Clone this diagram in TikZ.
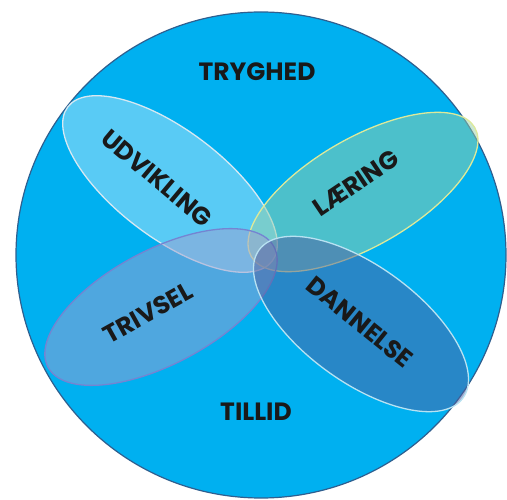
\documentclass[tikz,border=0pt]{standalone}
\usepackage{fontspec}
\setmainfont{Poppins}
\usepackage{tikz}
\definecolor{ringblue}{HTML}{00B0F0}
\definecolor{ringedge}{HTML}{2F5F8F}
\definecolor{udvfill}{HTML}{FFFFFF}
\definecolor{udvedge}{HTML}{D6E8F2}
\definecolor{laerfill}{HTML}{98D0A8}
\definecolor{laeredge}{HTML}{DDE99A}
\definecolor{trivfill}{HTML}{9EA0D0}
\definecolor{trivedge}{HTML}{7484D2}
\definecolor{dannfill}{HTML}{5060A0}
\definecolor{dannedge}{HTML}{B8E2F2}

\tikzset{
  petal/.style={line width=1.3pt, fill opacity=0.5},
  word/.style={font=\bfseries\fontsize{25}{28}\selectfont, text=black!90, inner sep=0pt}
}

\begin{document}
\begin{tikzpicture}[x=1pt,y=-1pt]
    \useasboundingbox (0,0) rectangle (507,500);
    \draw[ringedge, fill=ringblue, line width=1.2pt] (261,255) ellipse [x radius=245, y radius=243];
    \draw[petal, draw=udvedge, fill=udvfill, fill opacity=0.35, rotate around={-37:(170,184)}] (170,184) ellipse [x radius=128, y radius=54];
    \draw[petal, draw=laeredge, fill=laerfill, rotate around={30:(363,192)}] (363,192) ellipse [x radius=129, y radius=54];
    \draw[petal, draw=trivedge, fill=trivfill, rotate around={28:(161,307)}] (161,307) ellipse [x radius=128, y radius=57];
    \draw[petal, draw=dannedge, fill=dannfill, rotate around={-36:(361,324)}] (361,324) ellipse [x radius=126, y radius=58];
    \node[word] (tryghed) at (257,72) {TRYGHED};
    \node[word] (tillid) at (256,412) {TILLID};
    \node[word, rotate=-40] (udvikling) at (157,178) {UDVIKLING};
    \node[word, rotate=34] (laering) at (356,183) {LÆRING};
    \node[word, rotate=29] (trivsel) at (148,313) {TRIVSEL};
    \node[word, rotate=-39] (dannelse) at (360,322) {DANNELSE};
  \end{tikzpicture}
\end{document}
